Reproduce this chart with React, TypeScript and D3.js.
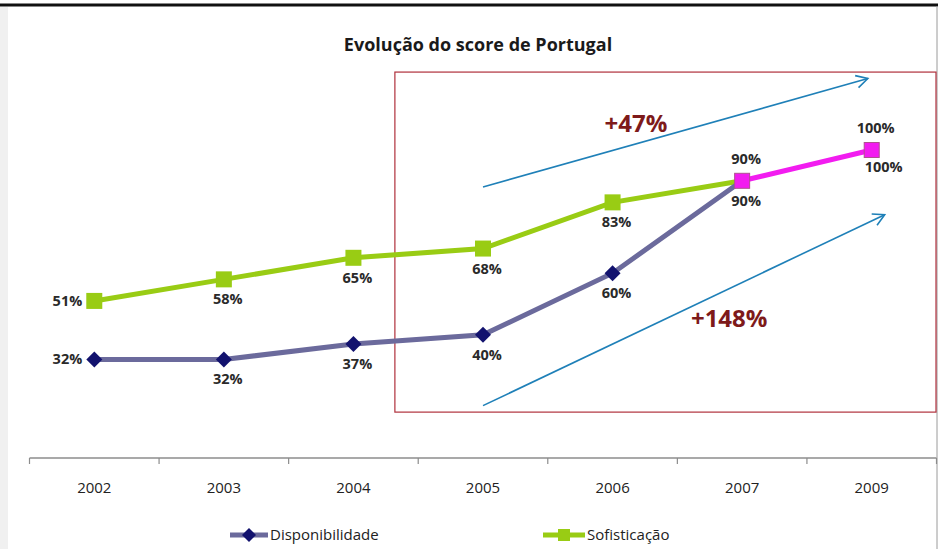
import React from "react";
import * as d3 from "d3";

const categories = ["2002", "2003", "2004", "2005", "2006", "2007", "2009"];
const disponibilidade = [32, 32, 37, 40, 60, 90, 100];
const sofisticacao = [51, 58, 65, 68, 83, 90, 100];
const dispLabelPlace = ["left", "below", "below", "below", "below", "above", "above"];
const sofLabelPlace = ["left", "below", "below", "below", "below", "below", "belowRight"];
const title = "Evolução do score de Portugal";
const growthLabels = ["+47%", "+148%"];
const legendNames = ["Disponibilidade", "Sofisticação"];

const W = 938;
const H = 549;
const FONT = "'Open Sans', 'DejaVu Sans', sans-serif";

export default function App() {
  const x = d3.scaleBand<string>().domain(categories).range([29.5, 936.5]).padding(0);
  const y = d3.scaleLinear().domain([0, 100]).range([458, 150]);
  const cx = (c: string) => (x(c) as number) + x.bandwidth() / 2;
  // continuous index scale for annotations
  const xi = d3.scaleLinear().domain([0, categories.length - 1]).range([cx(categories[0]), cx(categories[categories.length - 1])]);

  const line = d3.line<[number, number]>().x((d) => d[0]).y((d) => d[1]);
  const dispPts: [number, number][] = categories.map((c, i) => [cx(c), y(disponibilidade[i])]);
  const sofPts: [number, number][] = categories.map((c, i) => [cx(c), y(sofisticacao[i])]);

  // overlapping segments (both series equal) are highlighted in magenta
  const overlapIdx = categories.map((_, i) => disponibilidade[i] === sofisticacao[i]);
  const firstOverlap = overlapIdx.indexOf(true);
  const dispMain = firstOverlap >= 0 ? dispPts.slice(0, firstOverlap + 1) : dispPts;
  const sofMain = firstOverlap >= 0 ? sofPts.slice(0, firstOverlap + 1) : sofPts;
  const overlapPts = firstOverlap >= 0 ? sofPts.slice(firstOverlap) : [];

  const green = "#99cc14";
  const purple = "#6b6a9c";
  const navy = "#12126e";
  const magenta = "#f21cf0";
  const blue = "#1f80b8";
  const darkRed = "#7e1a1a";

  const labelPos = (p: [number, number], place: string) => {
    switch (place) {
      case "left":
        return { x: p[0] - 12, y: p[1] + 5, anchor: "end" };
      case "above":
        return { x: p[0] + 4, y: p[1] - 17, anchor: "middle" };
      case "belowRight":
        return { x: p[0] + 12, y: p[1] + 22, anchor: "middle" };
      default:
        return { x: p[0] + 4, y: p[1] + 25, anchor: "middle" };
    }
  };

  const diamond = (px: number, py: number, r: number) =>
    `M${px},${py - r}L${px + r},${py}L${px},${py + r}L${px - r},${py}Z`;

  const arrowHead = (x1: number, y1: number, x2: number, y2: number, len = 13, ang = 0.5) => {
    const a = Math.atan2(y2 - y1, x2 - x1);
    const p1 = [x2 - len * Math.cos(a - ang), y2 - len * Math.sin(a - ang)];
    const p2 = [x2 - len * Math.cos(a + ang), y2 - len * Math.sin(a + ang)];
    return `M${p1[0]},${p1[1]}L${x2},${y2}L${p2[0]},${p2[1]}`;
  };

  const arrows = [
    { i1: 3, v1: 88, i2: 5.97, v2: 123.2 },
    { i1: 3, v1: 17, i2: 6.1, v2: 79 },
  ];
  const arrowCoords = arrows.map((a) => [xi(a.i1), y(a.v1), xi(a.i2), y(a.v2)]);

  const boxLeft = xi(2.32);
  const boxRight = 936;
  const boxTop = y(125.3);
  const boxBottom = y(14.9);

  const ticks = categories.map((c) => x(c) as number).concat([(x(categories[categories.length - 1]) as number) + x.bandwidth()]);

  return (
    <svg width={W} height={H} style={{ position: "absolute", left: 0, top: 0, background: "#fff" }} fontFamily={FONT}>
      <rect x={0} y={0} width={W} height={H} fill="#ffffff" />
      <rect x={0} y={7} width={8} height={H - 7} fill="#f0f0f0" />
      <line x1={0} x2={W} y1={5} y2={5} stroke="#111" strokeWidth={3} />
      <line x1={937} x2={937} y1={6} y2={H} stroke="#9a9a9a" strokeWidth={1} />

      <text x={478} y={51} textAnchor="middle" fontSize={18} fontWeight={700} fill="#1a1a1a">
        {title}
      </text>

      {/* highlight box */}
      <rect x={boxLeft} y={boxTop} width={boxRight - boxLeft} height={boxBottom - boxTop} fill="none" stroke="#b0303c" strokeWidth={1.2} />

      {/* axis */}
      <line x1={ticks[0]} x2={ticks[ticks.length - 1]} y1={458} y2={458} stroke="#8c8c8c" strokeWidth={1.5} />
      {ticks.map((t, i) => (
        <line key={i} x1={t} x2={t} y1={458} y2={464} stroke="#8c8c8c" strokeWidth={1.2} />
      ))}
      {categories.map((c) => (
        <text key={c} x={cx(c)} y={493} textAnchor="middle" fontSize={15} fill="#222">
          {c}
        </text>
      ))}

      {/* arrows */}
      {arrowCoords.map((a, i) => (
        <g key={i} stroke={blue} strokeWidth={1.6} fill="none">
          <line x1={a[0]} y1={a[1]} x2={a[2]} y2={a[3]} />
          <path d={arrowHead(a[0], a[1], a[2], a[3])} />
        </g>
      ))}

      {/* lines */}
      <path d={line(sofMain) || ""} fill="none" stroke={green} strokeWidth={5} />
      <path d={line(dispMain) || ""} fill="none" stroke={purple} strokeWidth={5} />
      {overlapPts.length > 1 && <path d={line(overlapPts) || ""} fill="none" stroke={magenta} strokeWidth={5} />}

      {/* markers */}
      {sofPts.map((p, i) =>
        overlapIdx[i] ? null : <rect key={i} x={p[0] - 8} y={p[1] - 8} width={16} height={16} fill={green} />
      )}
      {dispPts.map((p, i) => (overlapIdx[i] ? null : <path key={i} d={diamond(p[0], p[1], 8)} fill={navy} />))}
      {sofPts.map((p, i) =>
        overlapIdx[i] ? (
          <rect key={"o" + i} x={p[0] - 7.5} y={p[1] - 7.5} width={15} height={15} fill={magenta} stroke="#b05090" strokeWidth={1} />
        ) : null
      )}

      {/* data labels */}
      {sofPts.map((p, i) => {
        const l = labelPos(p, sofLabelPlace[i]);
        return (
          <text key={"sl" + i} x={l.x} y={l.y} textAnchor={l.anchor as any} fontSize={14.5} fontWeight={700} fill="#2a2a2a">
            {sofisticacao[i]}%
          </text>
        );
      })}
      {dispPts.map((p, i) => {
        const l = labelPos(p, dispLabelPlace[i]);
        return (
          <text key={"dl" + i} x={l.x} y={l.y} textAnchor={l.anchor as any} fontSize={14.5} fontWeight={700} fill="#2a2a2a">
            {disponibilidade[i]}%
          </text>
        );
      })}

      {/* growth labels */}
      <text x={xi(4.18)} y={y(106)} textAnchor="middle" fontSize={24} fontWeight={700} fill={darkRed}>
        {growthLabels[0]}
      </text>
      <text x={xi(4.9)} y={y(42.5)} textAnchor="middle" fontSize={24} fontWeight={700} fill={darkRed}>
        {growthLabels[1]}
      </text>

      {/* legend */}
      <g>
        <line x1={230} x2={268} y1={535} y2={535} stroke={purple} strokeWidth={5} />
        <path d={diamond(249, 535, 7)} fill={navy} />
        <text x={270} y={540} fontSize={15} fill="#222">
          {legendNames[0]}
        </text>
        <line x1={543} x2={585} y1={535} y2={535} stroke={green} strokeWidth={5} />
        <rect x={558} y={529} width={12} height={12} fill={green} />
        <text x={587} y={540} fontSize={15} fill="#222">
          {legendNames[1]}
        </text>
      </g>
    </svg>
  );
}
